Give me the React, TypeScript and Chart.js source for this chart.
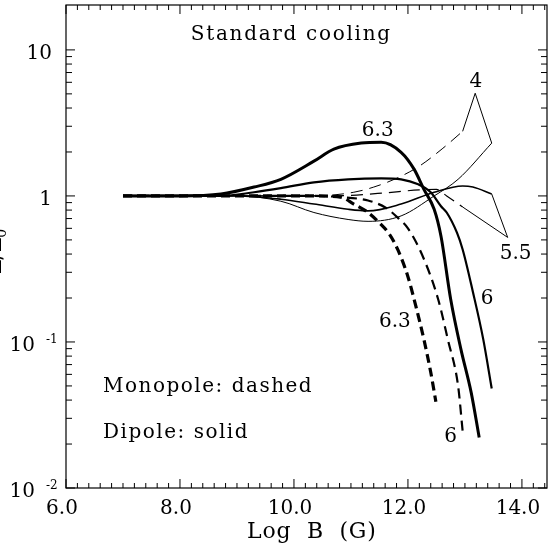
import React, { useEffect, useRef } from 'react';
import { Chart, registerables } from 'chart.js';
Chart.register(...registerables);

// Axis ranges
const X_MIN = 6;
const X_MAX = 14.44;
const Y_MIN = 0.01;
const Y_MAX = 20.3;

// Tick values / labels
const xMajorTicks = [6, 8, 10, 12, 14];
const xTickLabels = ['6.0', '8.0', '10.0', '12.0', '14.0'];
const xMinorStep = 0.2;
const yMajorTicks = [0.01, 0.1, 1, 10];
const yTickBase = ['10', '10', '1', '10'];
const yTickExp = ['-2', '-1', '', ''];
const yMinorMult = [2, 3, 4, 5, 6, 7, 8, 9];
const yMinorDecades = [0.01, 0.1, 1];

// Dipole (solid) curves
const d63X = [7.0, 8.0, 8.72, 9.3, 9.77, 10.35, 10.7, 11.18, 11.53, 11.88, 12.11, 12.28, 12.46, 12.58, 12.75, 12.93, 13.11, 13.25];
const d63Y = [1.0, 1.0, 1.03, 1.15, 1.3, 1.73, 2.09, 2.3, 2.33, 1.99, 1.52, 1.11, 0.81, 0.53, 0.196, 0.089, 0.045, 0.0222];
const d6X = [7.0, 8.0, 8.72, 9.3, 9.77, 10.35, 10.95, 11.53, 11.88, 12.18, 12.4, 12.58, 12.68, 12.86, 12.96, 13.14, 13.32, 13.47];
const d6Y = [1.0, 1.0, 1.0, 1.06, 1.13, 1.24, 1.3, 1.32, 1.3, 1.2, 1.06, 0.85, 0.77, 0.56, 0.43, 0.22, 0.105, 0.048];
const d55X = [7.0, 9.0, 9.77, 10.35, 10.95, 11.3, 11.88, 12.46, 12.96, 13.14, 13.47];
const d55Y = [1.0, 1.0, 0.95, 0.88, 0.81, 0.79, 0.88, 1.06, 1.17, 1.15, 1.03];
const d4X = [7.0, 9.0, 9.77, 10.35, 10.95, 11.3, 11.88, 12.46, 12.88, 13.47];
const d4Y = [1.0, 1.0, 0.92, 0.77, 0.69, 0.67, 0.73, 1.0, 1.3, 2.3];

// Monopole (dashed) curves
const m63X = [7.0, 9.0, 10.35, 10.82, 11.05, 11.3, 11.49, 11.67, 11.82, 12.0, 12.14, 12.28, 12.4, 12.49];
const m63Y = [1.0, 1.0, 1.0, 0.98, 0.88, 0.77, 0.66, 0.55, 0.43, 0.28, 0.175, 0.104, 0.062, 0.039];
const m6X = [7.0, 9.0, 10.35, 10.82, 11.3, 11.61, 11.82, 12.0, 12.28, 12.53, 12.7, 12.88, 12.96];
const m6Y = [1.0, 1.0, 1.0, 0.98, 0.93, 0.83, 0.71, 0.6, 0.37, 0.196, 0.104, 0.05, 0.0245];
const m55X = [7.0, 9.0, 10.35, 11.0, 11.6, 12.2, 12.5, 12.68, 12.96];
const m55Y = [1.0, 1.0, 1.0, 1.01, 1.05, 1.1, 1.11, 1.0, 0.84];
const m4X = [7.0, 9.0, 10.35, 11.05, 11.4, 11.8, 12.2, 12.6, 12.96];
const m4Y = [1.0, 1.0, 1.0, 1.06, 1.15, 1.32, 1.6, 2.1, 2.77];

// Label leader lines
const lead4X = [12.96, 13.18, 13.47];
const lead4Y = [2.77, 5.05, 2.3];
const lead55X = [12.96, 13.75, 13.47];
const lead55Y = [0.84, 0.52, 1.03];

// Text annotations (data coordinates)
const annText = ['Standard cooling', '6.3', '4', '5.5', '6', '6.3', '6', 'Monopole: dashed', 'Dipole: solid'];
const annX = [8.19, 11.47, 13.19, 13.89, 13.39, 11.77, 12.75, 6.65, 6.65];
const annY = [11.65, 2.56, 5.55, 0.368, 0.181, 0.126, 0.0206, 0.0452, 0.0219];
const annAlign: CanvasTextAlign[] = ['left', 'center', 'center', 'center', 'center', 'center', 'center', 'left', 'left'];
const annSpacing = ['1.7px', '0px', '0px', '0px', '0px', '0px', '0px', '1.5px', '1.5px'];

const SERIF = '"DejaVu Serif", serif';

const mk = (xs: number[], ys: number[]) => xs.map((x, i) => ({ x, y: ys[i] }));

const overlay = {
  id: 'overlay',
  afterDraw(chart: any) {
    const ctx: any = chart.ctx;
    const { left, right, top, bottom } = chart.chartArea;
    const xs = chart.scales.x;
    const ys = chart.scales.y;
    ctx.save();
    ctx.strokeStyle = '#000';
    ctx.fillStyle = '#000';
    ctx.lineWidth = 1.2;
    ctx.strokeRect(left, top, right - left, bottom - top);

    // x ticks (bottom and top, inward)
    ctx.lineWidth = 1;
    const nMinor = Math.round((X_MAX - X_MIN) / xMinorStep);
    for (let i = 0; i <= nMinor; i++) {
      const v = X_MIN + i * xMinorStep;
      const isMajor = xMajorTicks.some((m) => Math.abs(m - v) < 1e-6);
      const len = isMajor ? 9 : 5;
      const px = xs.getPixelForValue(v);
      ctx.beginPath();
      ctx.moveTo(px, bottom);
      ctx.lineTo(px, bottom - len);
      ctx.moveTo(px, top);
      ctx.lineTo(px, top + len);
      ctx.stroke();
    }
    // y ticks
    const yTicks: [number, number][] = [];
    yMajorTicks.forEach((v) => yTicks.push([v, 9]));
    yMinorDecades.forEach((d) => yMinorMult.forEach((m) => yTicks.push([d * m, 6])));
    yTicks.forEach(([v, len]) => {
      const py = ys.getPixelForValue(v);
      ctx.beginPath();
      ctx.moveTo(left, py);
      ctx.lineTo(left + len, py);
      ctx.moveTo(right, py);
      ctx.lineTo(right - len, py);
      ctx.stroke();
    });

    // x tick labels
    ctx.font = `20px ${SERIF}`;
    ctx.textAlign = 'center';
    ctx.textBaseline = 'alphabetic';
    xMajorTicks.forEach((v, i) => {
      ctx.fillText(xTickLabels[i], xs.getPixelForValue(v) - 4, bottom + 26);
    });

    // y tick labels
    yMajorTicks.forEach((v, i) => {
      const py = ys.getPixelForValue(v);
      if (yTickExp[i]) {
        ctx.font = `20px ${SERIF}`;
        ctx.textAlign = 'right';
        ctx.fillText(yTickBase[i], 35, py + 9);
        ctx.font = `12px ${SERIF}`;
        ctx.textAlign = 'left';
        ctx.fillText(yTickExp[i], 46, py + 1);
      } else {
        ctx.font = `20px ${SERIF}`;
        ctx.textAlign = 'right';
        ctx.fillText(yTickBase[i], 52, py + 9);
      }
    });

    // axis titles
    ctx.font = `22px ${SERIF}`;
    ctx.textAlign = 'left';
    ctx.letterSpacing = '0.8px';
    ctx.fillText('Log  B  (G)', 247, 538);
    ctx.letterSpacing = '0px';

    ctx.save();
    ctx.translate(1, 252);
    ctx.rotate(-Math.PI / 2);
    ctx.textAlign = 'center';
    ctx.font = `22px ${SERIF}`;
    ctx.fillText('L/L', -4, 0);
    const w = ctx.measureText('L/L').width;
    ctx.font = `14px ${SERIF}`;
    ctx.textAlign = 'left';
    ctx.fillText('0', -4 + w / 2, 5);
    ctx.restore();

    // annotations
    ctx.font = `20px ${SERIF}`;
    annText.forEach((t, i) => {
      ctx.textAlign = annAlign[i];
      ctx.letterSpacing = annSpacing[i];
      ctx.fillText(t, xs.getPixelForValue(annX[i]), ys.getPixelForValue(annY[i]));
    });
    ctx.letterSpacing = '0px';
    ctx.restore();
  },
};

export default function App() {
  const ref = useRef<HTMLCanvasElement>(null);
  useEffect(() => {
    const curve = (xsArr: number[], ysArr: number[], width: number, dash: number[]) => ({
      data: mk(xsArr, ysArr),
      borderColor: '#000',
      borderWidth: width,
      borderDash: dash,
      pointRadius: 0,
      fill: false,
      cubicInterpolationMode: 'monotone' as const,
    });
    const leader = (xsArr: number[], ysArr: number[]) => ({
      data: mk(xsArr, ysArr),
      borderColor: '#000',
      borderWidth: 1,
      pointRadius: 0,
      fill: false,
      tension: 0,
    });
    const chart = new Chart(ref.current!, {
      type: 'line',
      data: {
        datasets: [
          curve(d4X, d4Y, 1, []),
          curve(d55X, d55Y, 1.6, []),
          curve(d6X, d6Y, 2.2, []),
          curve(d63X, d63Y, 3, []),
          curve(m4X, m4Y, 1, [12, 7]),
          curve(m55X, m55Y, 1.2, [12, 7]),
          curve(m6X, m6Y, 2.2, [10, 6]),
          curve(m63X, m63Y, 3.2, [9, 5]),
          leader(lead4X, lead4Y),
          leader(lead55X, lead55Y),
        ] as any,
      },
      options: {
        responsive: false,
        animation: false,
        devicePixelRatio: 1,
        layout: { padding: { left: 0, right: 1, top: 5, bottom: 0 } },
        plugins: { legend: { display: false }, tooltip: { enabled: false } },
        scales: {
          x: {
            type: 'linear',
            min: X_MIN,
            max: X_MAX,
            grid: { display: false },
            border: { display: false },
            ticks: { display: false },
            afterFit: (s: any) => { s.height = 55; },
          },
          y: {
            type: 'logarithmic',
            min: Y_MIN,
            max: Y_MAX,
            grid: { display: false },
            border: { display: false },
            ticks: { display: false },
            afterFit: (s: any) => { s.width = 66; },
          },
        },
      } as any,
      plugins: [overlay],
    });
    return () => chart.destroy();
  }, []);
  return (
    <div style={{ position: 'fixed', left: 0, top: 0, width: 548, height: 543, background: '#fff' }}>
      <canvas ref={ref} width={548} height={543} style={{ display: 'block' }} />
    </div>
  );
}
